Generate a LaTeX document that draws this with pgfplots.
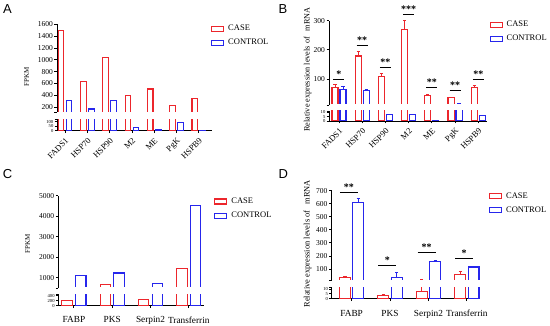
\documentclass[border=0pt]{standalone}
\usepackage{pgfplots}
\usepackage{pgfplotstable}
\pgfplotsset{compat=1.18}
\usepackage{fontspec}
\setmainfont{Liberation Serif}
\newfontfamily\panelfont{Liberation Sans}
\definecolor{cred}{RGB}{236,38,44}
\definecolor{cblue}{RGB}{38,38,236}

% Panel A: FPKM
\pgfplotstableread{
x c k
0 1500 307
1 634 166
2 1034 313
3 400 38
4 505 8
5 229 88
6 347 3
}\tabA
% Panel B: relative expression with errors
\pgfplotstableread{
x c ce k ke
0 71.5 11.5 65 11
1 179 17 60 6
2 108 13 7.2 0.6
3 270 30 7.0 0.6
4 42 5 0.4 0.1
5 35 3 13.5 1.5
6 70 9 6 0.6
}\tabB
% Panel C: FPKM
\pgfplotstableread{
x c k
0 200 1130
1 690 1230
2 240 720
3 1450 4530
}\tabC
% Panel D: relative expression with errors
\pgfplotstableread{
x c ce k ke
0 36 9 610 33
1 3 1.5 37 38
2 7.5 10 154 12
3 55 26 115 7
}\tabD

\pgfplotsset{
  brk/.style={
    scale only axis, clip=true, enlargelimits=false,
    axis line style={line width=0.9pt},
    tick align=outside, major tick length=2.5pt,
    major tick style={black, line width=0.8pt},
    /pgf/number format/.cd, 1000 sep={}, assume math mode=true, /pgfplots/.cd,
    ybar,
  },
  up/.style={brk, axis y line*=left, axis x line*=bottom,
    x axis line style={draw=none}, xtick=\empty,
    yticklabel style={font=\fontsize{7.5}{8}\selectfont, inner sep=1.5pt},
    extra y tick labels={},
    legend image code/.code={\draw[##1, line width=1.1pt] (0pt,-2.5pt) rectangle (12pt,2.5pt);},
    legend cell align=left,
  },
  lo/.style={brk, axis y line*=left, axis x line*=bottom,
    yticklabel style={font=\fontsize{4.6}{5}\selectfont, inner sep=1pt},
    extra y tick labels={},
  },
  ann/.style={scale only axis, hide axis, clip=false, enlargelimits=false},
  leg/.style={legend style={at={#1}, anchor=north west, draw=none, fill=none, inner sep=0pt,
    font=\fontsize{8.5}{9}\selectfont, row sep=5pt,
    nodes={inner sep=1pt},
    /tikz/every odd column/.append style={column sep=3pt}}},
  casebar/.style={draw=cred, fill=none, line width=1.1pt},
  ctrlbar/.style={draw=cblue, fill=none, line width=1.1pt},
  caseerr/.style={error bars/.cd, y dir=plus, y explicit,
    error bar style={cred, line width=0.6pt},
    error mark options={rotate=90, cred, mark size=1.6pt, line width=0.6pt}, /pgfplots/.cd},
  ctrlerr/.style={error bars/.cd, y dir=plus, y explicit,
    error bar style={cblue, line width=0.6pt},
    error mark options={rotate=90, cblue, mark size=1.6pt, line width=0.6pt}, /pgfplots/.cd},
  rotlab/.style={xtick={0,...,6}, xticklabels={FADS1,HSP70,HSP90,M2,ME,PgK,HSPB9},
    xticklabel shift=2.5pt,
    xticklabel style={rotate=45, anchor=north east, font=\fontsize{8.5}{9}\selectfont, inner sep=1pt}},
  catlab/.style={xtick={0,...,3}, xticklabels={FABP,PKS,Serpin2,Transferrin},
    xticklabel shift=7pt,
    xticklabel style={font=\fontsize{9.3}{9.3}\selectfont, inner sep=1.5pt}},
}
% open the broken bars at the bottom of an upper segment
\newcommand{\openbase}{\fill[white] ([xshift=0.5pt,yshift=-1pt]rel axis cs:0,0) rectangle ([xshift=1pt,yshift=0.9pt]rel axis cs:1,0);}
\newcommand{\sig}[4]{% x, y, halfwidth(pt), stars
  \draw[line width=1pt, black] ([xshift=-#3pt]axis cs:#1,#2) -- ([xshift=#3pt]axis cs:#1,#2);
  \node[anchor=base, inner sep=0pt, font=\fontsize{10}{10}\selectfont\bfseries] at ([yshift=2pt]axis cs:#1,#2) {#4};}
\newcommand{\caseleg}{\addlegendimage{casebar}\addlegendentry{CASE}\addlegendimage{ctrlbar}\addlegendentry{CONTROL}}

\begin{document}
\begin{tikzpicture}
\useasboundingbox (0,0) rectangle (550pt,325pt);

% ---------------- Panel A ----------------
\node[anchor=base west, inner sep=0pt, font=\panelfont\fontsize{13}{13}\selectfont] at (3pt,311.5pt) {A};
\begin{axis}[up, at={(57pt,212.1pt)}, anchor=south west, width=154.7pt, height=88.6pt,
  xmin=-0.36, xmax=6.58, ymin=100, ymax=1600, ytick={200,400,...,1600}, extra y ticks={100},
  bar width=0.25,
  ylabel={FPKM}, ylabel style={at={(axis description cs:-0.196,0.41)}, anchor=center, font=\fontsize{7}{7}\selectfont},
  leg={(axis description cs:0.995,1.003)}]
\caseleg
\addplot[casebar, bar shift=-0.18, forget plot] table[x=x,y=c] {\tabA};
\addplot[ctrlbar, bar shift=0.18, forget plot] table[x=x,y=k] {\tabA};
\openbase
\end{axis}
\begin{axis}[lo, rotlab, at={(57pt,194.3pt)}, anchor=south west, width=154.7pt, height=11.25pt,
  xmin=-0.36, xmax=6.58, ymin=0, ymax=125, ytick={0,50,100}, extra y ticks={125},
  bar width=0.25]
\addplot[casebar, bar shift=-0.18] table[x=x,y=c] {\tabA};
\addplot[ctrlbar, bar shift=0.18] table[x=x,y=k] {\tabA};
\end{axis}

% ---------------- Panel B ----------------
\node[anchor=base west, inner sep=0pt, font=\panelfont\fontsize{13}{13}\selectfont] at (278.3pt,311.7pt) {B};
\begin{axis}[up, at={(329pt,219.8pt)}, anchor=south west, width=158.3pt, height=84.5pt,
  xmin=-0.43, xmax=6.39, ymin=10, ymax=300, ytick={100,200,300}, extra y ticks={10},
  bar width=0.26,
  ylabel={Relative expression levels of \ \ mRNA}, ylabel style={at={(axis description cs:-0.1346,0.4225)}, anchor=center, font=\fontsize{8.2}{8.2}\selectfont},
  leg={(axis description cs:1.0126,1.008)}]
\caseleg
\addplot[caseerr, casebar, bar shift=-0.172, forget plot] table[x=x,y=c,y error=ce] {\tabB};
\addplot[ctrlerr, ctrlbar, bar shift=0.172, forget plot] table[x=x,y=k,y error=ke] {\tabB};
\openbase
\end{axis}
\begin{axis}[ann, at={(329pt,219.8pt)}, anchor=south west, width=158.3pt, height=84.5pt,
  xmin=-0.43, xmax=6.39, ymin=10, ymax=300]
\sig{0}{97}{5.5}{*}
\sig{1}{214}{5.5}{**}
\sig{2}{138}{5.5}{**}
\sig{3}{320}{5.5}{***}
\sig{4}{70}{5.5}{**}
\sig{5}{60}{5.5}{**}
\sig{6}{97}{5.5}{**}
\end{axis}
\begin{axis}[lo, rotlab, at={(329pt,204pt)}, anchor=south west, width=158.3pt, height=10pt,
  xmin=-0.43, xmax=6.39, ymin=0, ymax=11.5, ytick={0,5,10}, extra y ticks={11.5},
  bar width=0.26]
\addplot[caseerr, casebar, bar shift=-0.172] table[x=x,y=c,y error=ce] {\tabB};
\addplot[ctrlerr, ctrlbar, bar shift=0.172] table[x=x,y=k,y error=ke] {\tabB};
\end{axis}

% ---------------- Panel C ----------------
\node[anchor=base west, inner sep=0pt, font=\panelfont\fontsize{13}{13}\selectfont] at (2.7pt,146.3pt) {C};
\begin{axis}[up, at={(58.3pt,37pt)}, anchor=south west, width=145.7pt, height=92.3pt,
  xmin=-0.407, xmax=3.397, ymin=500, ymax=5000, ytick={1000,2000,...,5000}, extra y ticks={500},
  bar width=0.274,
  ylabel={FPKM}, ylabel style={at={(axis description cs:-0.211,0.48)}, anchor=center, font=\fontsize{7}{7}\selectfont},
  leg={(axis description cs:1.069,0.989)}]
\caseleg
\addplot[casebar, bar shift=-0.178, forget plot] table[x=x,y=c] {\tabC};
\addplot[ctrlbar, bar shift=0.178, forget plot] table[x=x,y=k] {\tabC};
\openbase
\end{axis}
\begin{axis}[lo, catlab, at={(58.3pt,19.5pt)}, anchor=south west, width=145.7pt, height=11.5pt,
  xmin=-0.407, xmax=3.397, ymin=0, ymax=460, ytick={0,200,400}, extra y ticks={460},
  bar width=0.274]
\addplot[casebar, bar shift=-0.178] table[x=x,y=c] {\tabC};
\addplot[ctrlbar, bar shift=0.178] table[x=x,y=k] {\tabC};
\end{axis}

% ---------------- Panel D ----------------
\node[anchor=base west, inner sep=0pt, font=\panelfont\fontsize{13}{13}\selectfont] at (278.3pt,147pt) {D};
\begin{axis}[up, at={(331.7pt,44.3pt)}, anchor=south west, width=148.3pt, height=90pt,
  xmin=-0.518, xmax=3.344, ymin=10, ymax=700, ytick={100,200,...,700}, extra y ticks={10},
  bar width=0.286,
  ylabel={Relative expression levels of \ \ mRNA}, ylabel style={at={(axis description cs:-0.162,0.411)}, anchor=center, font=\fontsize{8.4}{8.4}\selectfont},
  leg={(axis description cs:1.0587,0.993)}]
\caseleg
\addplot[caseerr, casebar, bar shift=-0.174, forget plot] table[x=x,y=c,y error=ce] {\tabD};
\addplot[ctrlerr, ctrlbar, bar shift=0.174, forget plot] table[x=x,y=k,y error=ke] {\tabD};
\openbase
\end{axis}
\begin{axis}[ann, at={(331.7pt,44.3pt)}, anchor=south west, width=148.3pt, height=90pt,
  xmin=-0.518, xmax=3.344, ymin=10, ymax=700]
\sig{-0.07}{685}{9}{**}
\sig{0.93}{123}{9}{*}
\sig{1.95}{228}{9}{**}
\sig{2.93}{182}{9}{*}
\end{axis}
\begin{axis}[lo, catlab, at={(331.7pt,26.3pt)}, anchor=south west, width=148.3pt, height=11.4pt,
  xmin=-0.518, xmax=3.344, ymin=0, ymax=11.75, ytick={0,5,10}, extra y ticks={11.75},
  bar width=0.286]
\addplot[caseerr, casebar, bar shift=-0.174] table[x=x,y=c,y error=ce] {\tabD};
\addplot[ctrlerr, ctrlbar, bar shift=0.174] table[x=x,y=k,y error=ke] {\tabD};
\end{axis}
\end{tikzpicture}
\end{document}
